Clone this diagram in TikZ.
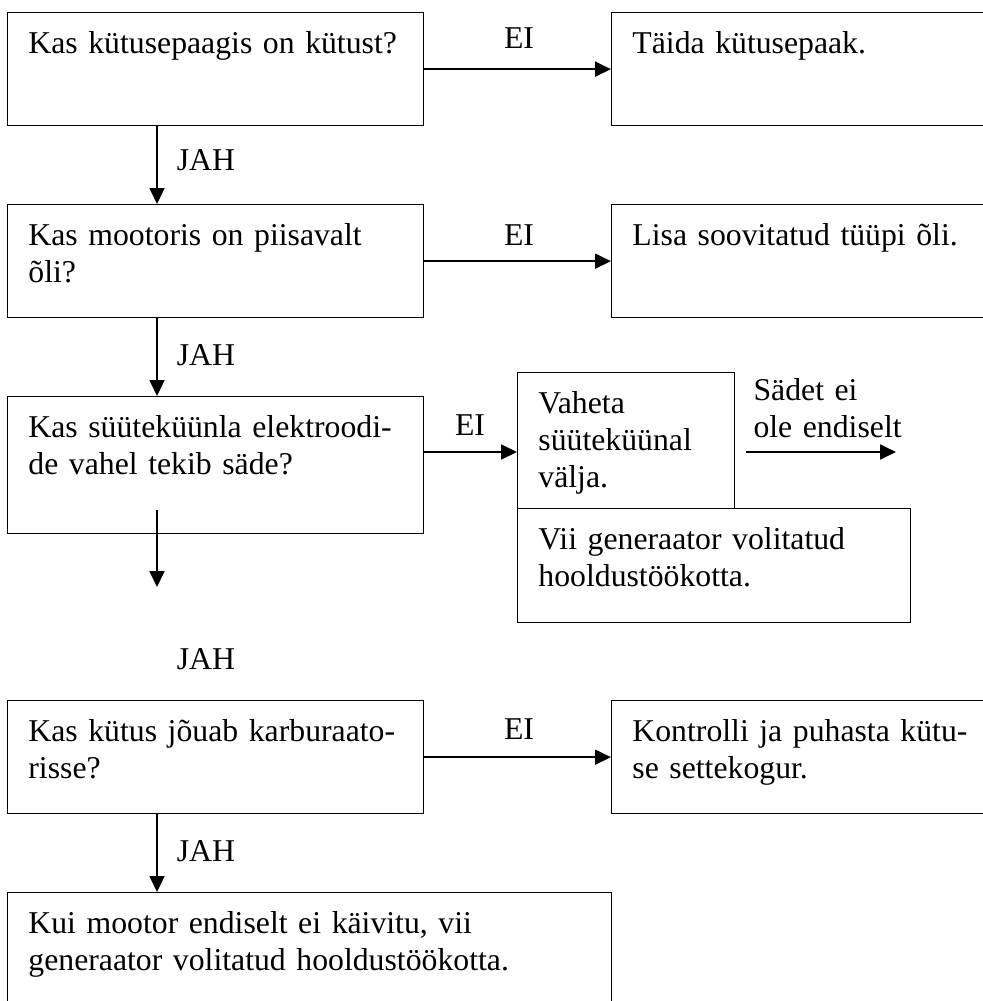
\documentclass[tikz,border=0pt]{standalone}
\usepackage{fontspec}
\setmainfont{Liberation Serif}
\usetikzlibrary{arrows.meta}
\tikzset{
  flow box/.style={draw=black,line width=0.5pt,anchor=north west,inner sep=0pt},
  ask box/.style={flow box,minimum width=157.2pt,minimum height=42.7pt},
  todo box/.style={flow box,minimum width=147pt,minimum height=42.7pt},
  flow text/.style={anchor=north west,inner sep=0pt,text width=230pt,align=left,
    text height=15.6pt,font=\fontsize{12}{14}\selectfont},
  box text/.style={flow text,xshift=7.9pt},
  flow arrow/.style={-{Triangle[length=6pt,width=5.6pt]},line width=0.8pt},
  flow label/.style={inner sep=0pt,font=\fontsize{12}{14}\selectfont}
}
\begin{document}
\begin{tikzpicture}[x=0.378pt,y=-0.378pt]
  \useasboundingbox (0,0) rectangle (983,1001);
  \clip (0,0) rectangle (983,1001);
  \coordinate (col) at (157,0);
  \coordinate (row3) at (0,452);

  % kuetus
  \node[ask box] (q1) at (7,12) {};
  \node[box text] (q1t) at (q1.north west) {Kas kütusepaagis on kütust?};
  \node[todo box] (a1) at (611,12) {};
  \node[box text] (a1t) at (a1.north west) {Täida kütusepaak.};
  \draw[flow arrow] (q1.east) -- (a1.west);
  \node[flow label] (ei1) at (519,38) {EI};

  % oli
  \node[ask box] (q2) at (7,204) {};
  \node[box text] (q2t) at (q2.north west) {Kas mootoris on piisavalt\\õli?};
  \node[todo box] (a2) at (611,204) {};
  \node[box text] (a2t) at (a2.north west) {Lisa soovitatud tüüpi õli.};
  \draw[flow arrow] (q1.south -| col) -- (q2.north -| col);
  \node[flow label] (jah1) at (206,160) {JAH};
  \draw[flow arrow] (q2.east) -- (a2.west);
  \node[flow label] (ei2) at (519,235) {EI};

  % saede
  \node[ask box,minimum height=51.8pt] (q3) at (7,396) {};
  \node[box text] (q3t) at (q3.north west) {Kas süüteküünla elektroodi-\\de vahel tekib säde?};
  \draw[flow arrow] (q2.south -| col) -- (q3.north -| col);
  \node[flow label] (jah2) at (206,355) {JAH};
  \node[flow box,minimum width=82pt,minimum height=51.4pt] (a3) at (517,372) {};
  \node[box text] (a3t) at (a3.north west) {Vaheta\\süüteküünal\\välja.};
  \node[flow box,minimum width=148.6pt,minimum height=43.1pt] (a3b) at (517,508) {};
  \node[box text] (a3bt) at (a3b.north west) {Vii generaator volitatud\\hooldustöökotta.};
  \draw[flow arrow] (q3.east |- row3) -- (a3.west |- row3);
  \node[flow label] (ei3) at (470,425) {EI};
  \coordinate (sade1) at (746,452);
  \coordinate (sade2) at (896,452);
  \draw[flow arrow] (sade1) -- (sade2);
  \node[flow text] (sadet) at (753,359) {Sädet ei\\ole endiselt};
  \coordinate (down1) at (157,510);
  \coordinate (down2) at (157,587);
  \draw[flow arrow] (down1) -- (down2);
  \node[flow label] (jah3) at (206,659) {JAH};

  % karburaator
  \node[ask box] (q4) at (7,700) {};
  \node[box text] (q4t) at (q4.north west) {Kas kütus jõuab karburaato-\\risse?};
  \node[todo box] (a4) at (611,700) {};
  \node[box text] (a4t) at (a4.north west) {Kontrolli ja puhasta kütu-\\se settekogur.};
  \draw[flow arrow] (q4.east) -- (a4.west);
  \node[flow label] (ei4) at (519,729) {EI};

  % lopp
  \node[flow box,minimum width=228.3pt,minimum height=49pt] (end) at (7,892) {};
  \node[box text] (endt) at (end.north west) {Kui mootor endiselt ei käivitu, vii\\generaator volitatud hooldustöökotta.};
  \draw[flow arrow] (q4.south -| col) -- (end.north -| col);
  \node[flow label] (jah4) at (206,851) {JAH};
\end{tikzpicture}
\end{document}
